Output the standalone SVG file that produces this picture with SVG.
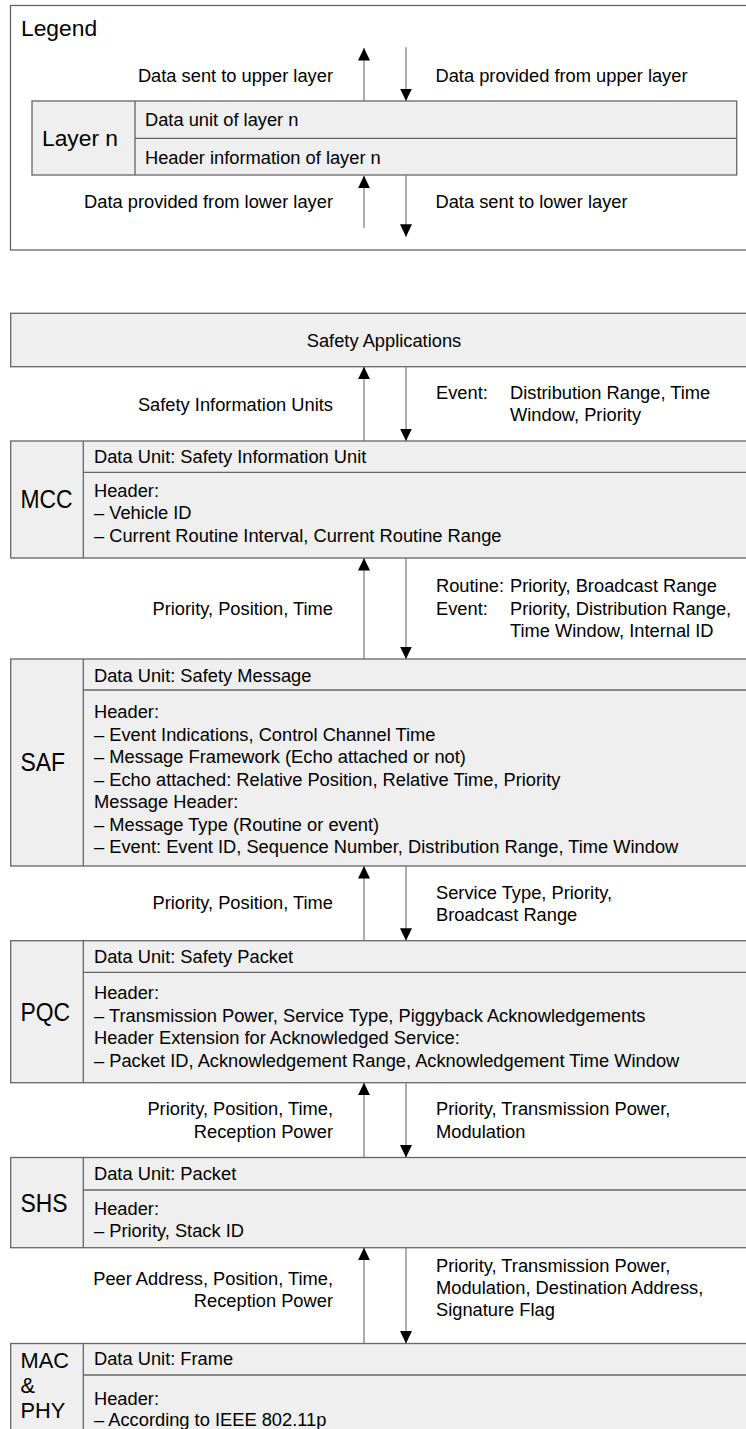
<svg xmlns="http://www.w3.org/2000/svg" width="746" height="1429" viewBox="0 0 746 1429">
  <style>
    text { font-family: "Liberation Sans", Arial, sans-serif; fill: #000; }
    .t { font-size: 18.3px; }
    .r { text-anchor: end; }
    .lbl { font-size: 22.8px; }
    .lay { font-size: 26px; }
    .stk { font-size: 21.8px; }
    .box { fill: #efefef; stroke: #666; stroke-width: 1.3; }
    .frame { fill: #fff; stroke: #666; stroke-width: 1.3; }
    .div { stroke: #666; stroke-width: 1.3; fill: none; }
    .flow { stroke: #777; stroke-width: 1.2; fill: none; marker-end: url(#head); }
  </style>
  <defs>
    <marker id="head" viewBox="0 0 12.5 12" markerWidth="12.5" markerHeight="12" refX="12.5" refY="6" orient="auto" markerUnits="userSpaceOnUse">
      <path d="M0,0 L12.5,6 L0,12 Z" fill="#000"/>
    </marker>
  </defs>

  <!-- Legend -->
  <g id="legend">
    <rect class="frame" x="10.5" y="5.5" width="760" height="244.5"/>
    <text class="lbl" x="21" y="36">Legend</text>
    <rect class="box" x="32" y="101" width="704.7" height="74"/>
    <line class="div" x1="135" y1="101" x2="135" y2="175"/>
    <line class="div" x1="135" y1="138.3" x2="736.7" y2="138.3"/>
    <text class="lbl" x="42" y="146">Layer n</text>
    <text class="t" x="145" y="125.5">Data unit of layer n</text>
    <text class="t" x="145" y="163.5">Header information of layer n</text>
    <text class="t r" x="333" y="81.5">Data sent to upper layer</text>
    <text class="t" x="435.5" y="81.5">Data provided from upper layer</text>
    <text class="t r" x="333" y="208">Data provided from lower layer</text>
    <text class="t" x="435.5" y="208">Data sent to lower layer</text>
  </g>

  <!-- Protocol layers -->
  <g id="safety-applications">
    <rect class="box" x="10.7" y="313.3" width="760" height="53.4"/>
    <text class="t" x="384" y="346.5" text-anchor="middle">Safety Applications</text>
  </g>

  <g id="mcc">
    <rect class="box" x="10.7" y="441" width="760" height="117"/>
    <line class="div" x1="83.3" y1="441" x2="83.3" y2="558"/>
    <line class="div" x1="83.3" y1="472.3" x2="760" y2="472.3"/>
    <text class="lay" transform="translate(20.5,507.5) scale(0.88,1)">MCC</text>
    <text class="t" x="94" y="463">Data Unit: Safety Information Unit</text>
    <text class="t" x="94" y="497">Header:</text>
    <text class="t" x="94" y="519.3">– Vehicle ID</text>
    <text class="t" x="94" y="541.6">– Current Routine Interval, Current Routine Range</text>
  </g>

  <g id="saf">
    <rect class="box" x="10.7" y="659" width="760" height="207"/>
    <line class="div" x1="83.3" y1="659" x2="83.3" y2="866"/>
    <line class="div" x1="83.3" y1="690" x2="760" y2="690"/>
    <text class="lay" transform="translate(20.5,771.3) scale(0.88,1)">SAF</text>
    <text class="t" x="94" y="682">Data Unit: Safety Message</text>
    <text class="t" x="94" y="718.3">Header:</text>
    <text class="t" x="94" y="740.8">– Event Indications, Control Channel Time</text>
    <text class="t" x="94" y="763.3">– Message Framework (Echo attached or not)</text>
    <text class="t" x="94" y="785.8">– Echo attached: Relative Position, Relative Time, Priority</text>
    <text class="t" x="94" y="808.3">Message Header:</text>
    <text class="t" x="94" y="830.8">– Message Type (Routine or event)</text>
    <text class="t" x="94" y="853.3">– Event: Event ID, Sequence Number, Distribution Range, Time Window</text>
  </g>

  <g id="pqc">
    <rect class="box" x="10.7" y="940.7" width="760" height="142"/>
    <line class="div" x1="83.3" y1="940.7" x2="83.3" y2="1082.7"/>
    <line class="div" x1="83.3" y1="972.3" x2="760" y2="972.3"/>
    <text class="lay" transform="translate(20.5,1021) scale(0.88,1)">PQC</text>
    <text class="t" x="94" y="962.7">Data Unit: Safety Packet</text>
    <text class="t" x="94" y="999.3">Header:</text>
    <text class="t" x="94" y="1021.7">– Transmission Power, Service Type, Piggyback Acknowledgements</text>
    <text class="t" x="94" y="1044">Header Extension for Acknowledged Service:</text>
    <text class="t" x="94" y="1066.5">– Packet ID, Acknowledgement Range, Acknowledgement Time Window</text>
  </g>

  <g id="shs">
    <rect class="box" x="10.7" y="1157.5" width="760" height="90.2"/>
    <line class="div" x1="83.3" y1="1157.5" x2="83.3" y2="1247.7"/>
    <line class="div" x1="83.3" y1="1190" x2="760" y2="1190"/>
    <text class="lay" transform="translate(20.5,1211.5) scale(0.88,1)">SHS</text>
    <text class="t" x="94" y="1180">Data Unit: Packet</text>
    <text class="t" x="94" y="1215">Header:</text>
    <text class="t" x="94" y="1237">– Priority, Stack ID</text>
  </g>

  <g id="mac-phy">
    <rect class="box" x="10.7" y="1343.5" width="760" height="100"/>
    <line class="div" x1="83.3" y1="1343.5" x2="83.3" y2="1443.5"/>
    <line class="div" x1="83.3" y1="1375" x2="760" y2="1375"/>
    <text class="stk" x="20.5" y="1368">MAC</text>
    <text class="stk" x="20.5" y="1393">&amp;</text>
    <text class="stk" x="20.5" y="1418">PHY</text>
    <text class="t" x="94" y="1365">Data Unit: Frame</text>
    <text class="t" x="94" y="1405">Header:</text>
    <text class="t" x="94" y="1426">– According to IEEE 802.11p</text>
  </g>

  <!-- Up/down data flows between layers -->
  <g id="connectors">
    <line class="flow" x1="364" y1="101" x2="364" y2="48"/>
    <line class="flow" x1="406" y1="47.3" x2="406" y2="101"/>
    <line class="flow" x1="364" y1="228" x2="364" y2="175.7"/>
    <line class="flow" x1="406" y1="175" x2="406" y2="236.7"/>

    <line class="flow" x1="364" y1="441" x2="364" y2="366.7"/>
    <line class="flow" x1="406" y1="366.7" x2="406" y2="441"/>

    <line class="flow" x1="364" y1="659" x2="364" y2="558"/>
    <line class="flow" x1="406" y1="558" x2="406" y2="659"/>

    <line class="flow" x1="364" y1="940.7" x2="364" y2="866"/>
    <line class="flow" x1="406" y1="866" x2="406" y2="940.7"/>

    <line class="flow" x1="364" y1="1157.5" x2="364" y2="1082.7"/>
    <line class="flow" x1="406" y1="1082.7" x2="406" y2="1157.5"/>

    <line class="flow" x1="364" y1="1343.5" x2="364" y2="1247.7"/>
    <line class="flow" x1="406" y1="1247.7" x2="406" y2="1343.5"/>
  </g>

  <!-- Flow labels -->
  <g id="flow-labels">
    <text class="t r" x="333" y="411">Safety Information Units</text>
    <text class="t" x="436" y="399">Event:</text>
    <text class="t" x="510" y="399">Distribution Range, Time</text>
    <text class="t" x="510" y="421">Window, Priority</text>

    <text class="t r" x="333" y="615">Priority, Position, Time</text>
    <text class="t" x="436" y="592">Routine:</text>
    <text class="t" x="510" y="592">Priority, Broadcast Range</text>
    <text class="t" x="436" y="615">Event:</text>
    <text class="t" x="510" y="615">Priority, Distribution Range,</text>
    <text class="t" x="510" y="637">Time Window, Internal ID</text>

    <text class="t r" x="333" y="909">Priority, Position, Time</text>
    <text class="t" x="436" y="899">Service Type, Priority,</text>
    <text class="t" x="436" y="921">Broadcast Range</text>

    <text class="t r" x="333" y="1115">Priority, Position, Time,</text>
    <text class="t r" x="333" y="1137.5">Reception Power</text>
    <text class="t" x="436" y="1115">Priority, Transmission Power,</text>
    <text class="t" x="436" y="1137.5">Modulation</text>

    <text class="t r" x="333" y="1285">Peer Address, Position, Time,</text>
    <text class="t r" x="333" y="1307">Reception Power</text>
    <text class="t" x="436" y="1272">Priority, Transmission Power,</text>
    <text class="t" x="436" y="1294">Modulation, Destination Address,</text>
    <text class="t" x="436" y="1316">Signature Flag</text>
  </g>
</svg>
